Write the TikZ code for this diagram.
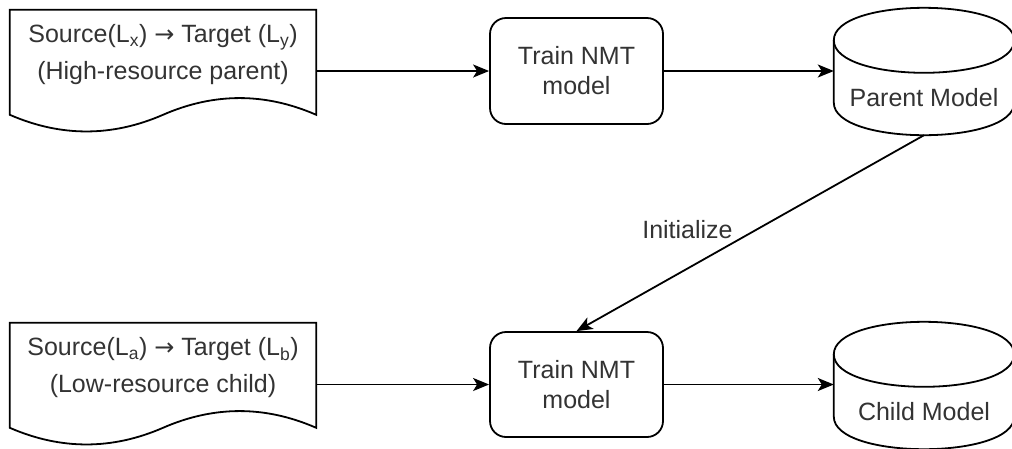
\documentclass[tikz,border=0pt]{standalone}
\usepackage{fontspec}
\setmainfont{Liberation Sans}
\newfontfamily\arrowfont{DejaVu Sans}
\usetikzlibrary{calc,arrows.meta}
\definecolor{txt}{HTML}{333333}
\newcommand\maparrow{{\arrowfont\fontsize{24}{37}\selectfont →}}

% wavy-bottom document outline around an (invisible) box node
\newcommand\docoutline[1]{%
  \draw[outline] (#1.north west) -- (#1.north east) -- ($(#1.north east)+(0,105)$)
    .. controls +(-51,-22.3) and +(51,-22.3) .. ($(#1.north)+(0,105)$)
    .. controls +(-51,22.2) and +(51,22.2) .. ($(#1.north west)+(0,105)$) -- cycle;}

% database cylinder outline around an (invisible) box node
\newcommand\dboutline[1]{%
  \draw[outline] ($(#1.north west)+(0,32.5)$)
    .. controls +(0,-43.33) and +(0,-43.33) .. ($(#1.north east)+(0,32.5)$)
    -- ($(#1.south east)+(0,-32.5)$)
    .. controls +(0,43.33) and +(0,43.33) .. ($(#1.south west)+(0,-32.5)$) -- cycle;
  \draw[outline] ($(#1.north west)+(0,32.5)$)
    .. controls +(0,43.33) and +(0,43.33) .. ($(#1.north east)+(0,32.5)$);}

\begin{document}
\begin{tikzpicture}[x=1pt,y=-1pt,
  outline/.style={draw=black,line width=1.8pt},
  docbox/.style={minimum width=306pt,minimum height=123.5pt,inner sep=0pt},
  doctext/.style={font=\fontsize{25}{37}\selectfont,text=txt,align=center,inner sep=0pt},
  trainbox/.style={outline,rounded corners=16pt,minimum width=173pt,minimum height=106pt,
    align=center,font=\fontsize{25}{30}\selectfont,text=txt,inner sep=0pt},
  dbbox/.style={minimum width=180pt,minimum height=127pt,inner sep=0pt},
  dbtext/.style={font=\fontsize{25}{30}\selectfont,text=txt,anchor=base,inner sep=0pt},
  flow/.style={line width=1.8pt,-{Stealth[length=16pt,width=13pt,inset=4pt]}}]
\useasboundingbox (0,0) rectangle (1012,448);
\clip (0,0) rectangle (1012,448);

% upper row: parent training
\node[docbox] (src1) at (163,71.75) {};
\docoutline{src1}
\node[doctext] (src1t) at ($(src1.north)+(0,45.2)$)
  {Source(L\textsubscript{x}) \maparrow{} Target (L\textsubscript{y})\\(High-resource parent)};
\node[trainbox] (train1) at (576.5,71) {Train NMT\\model};
\node[dbbox] (parent) at (924,71.5) {};
\dboutline{parent}
\node[dbtext] (parentt) at ($(parent.north)+(0,99)$) {Parent Model};

% lower row: child training
\node[docbox] (src2) at (163,384.75) {};
\docoutline{src2}
\node[doctext] (src2t) at ($(src2.north)+(0,45.2)$)
  {Source(L\textsubscript{a}) \maparrow{} Target (L\textsubscript{b})\\(Low-resource child)};
\node[trainbox,minimum height=105pt] (train2) at (576.5,384.5) {Train NMT\\model};
\node[dbbox] (child) at (924,385.5) {};
\dboutline{child}
\node[dbtext] (childt) at ($(child.north)+(0,99)$) {Child Model};

% connectors
\draw[flow] (src1.east |- train1.west) -- (train1.west);
\draw[flow] (train1.east) -- (train1.east -| parent.west);
\draw[flow] (src2.east |- train2.west) -- (train2.west);
\draw[flow] (train2.east) -- (train2.east -| child.west);
\draw[flow] (parent.south) -- (train2.north);
\node[dbtext] (init) at (687.5,238) {Initialize};
\end{tikzpicture}
\end{document}
